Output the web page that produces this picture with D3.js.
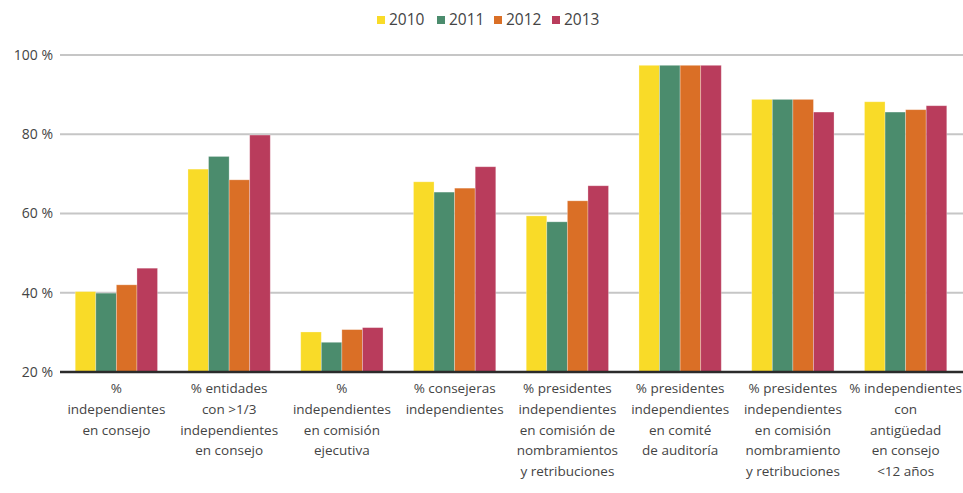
<!DOCTYPE html>
<html>
<head>
<meta charset="utf-8">
<script src="https://cdn.jsdelivr.net/npm/d3@7"></script>
<style>
  body { margin: 0; background: #fff; }
  text { font-family: "Open Sans", "Noto Sans", sans-serif; fill: #444; }
</style>
</head>
<body>
<div id="chart"></div>
<script>
var years = ["2010", "2011", "2012", "2013"];
var colors = ["#f9db28", "#4b8c6d", "#da6f26", "#b93c5c"];
var categories = [
    ["%", "independientes", "en consejo"],
    ["% entidades", "con >1/3", "independientes", "en consejo"],
    ["%", "independientes", "en comisión", "ejecutiva"],
    ["% consejeras", "independientes"],
    ["% presidentes", "independientes", "en comisión de", "nombramientos", "y retribuciones"],
    ["% presidentes", "independientes", "en comité", "de auditoría"],
    ["% presidentes", "independientes", "en comisión", "nombramiento", "y retribuciones"],
    ["% independientes", "con", "antigüedad", "en consejo", "<12 años"]
];
var values2010 = [40.3, 71.2, 30.1, 68.0, 59.4, 97.4, 88.8, 88.2];
var values2011 = [39.9, 74.4, 27.5, 65.4, 57.9, 97.4, 88.8, 85.6];
var values2012 = [42.0, 68.5, 30.7, 66.4, 63.2, 97.4, 88.8, 86.2];
var values2013 = [46.2, 79.8, 31.2, 71.8, 67.0, 97.4, 85.6, 87.2];
var yTicks = [20, 40, 60, 80, 100];

var series = [values2010, values2011, values2012, values2013];
var width = 963, height = 493;

var svg = d3.select('#chart').append('svg')
    .attr('width', width)
    .attr('height', height);

var x = d3.scaleBand()
    .domain(d3.range(categories.length))
    .range([60, 962])
    .paddingInner(0.27)
    .paddingOuter(0.135);

var xInner = d3.scaleBand()
    .domain(d3.range(years.length))
    .range([0, x.bandwidth()]);

var y = d3.scaleLinear().domain([20, 100]).range([372, 55]);

// grid lines
svg.append('g').selectAll('line')
    .data(yTicks.slice(1))
    .enter().append('line')
    .attr('x1', 60).attr('x2', width)
    .attr('y1', function (d) { return y(d); })
    .attr('y2', function (d) { return y(d); })
    .attr('stroke', '#c6c6c6')
    .attr('stroke-width', 2);

// y tick labels
svg.append('g').selectAll('text')
    .data(yTicks)
    .enter().append('text')
    .attr('x', 53)
    .attr('y', function (d) { return y(d); })
    .attr('dy', '0.35em')
    .attr('text-anchor', 'end')
    .style('font-size', '14px')
    .text(function (d) { return d + ' %'; });

// bars
var groups = svg.append('g').selectAll('g')
    .data(categories)
    .enter().append('g')
    .attr('transform', function (d, i) { return `translate(${x(i)},0)`; });

groups.selectAll('rect')
    .data(function (d, i) { return series.map(function (s, j) { return { year: j, value: s[i] }; }); })
    .enter().append('rect')
    .attr('x', function (d) { return xInner(d.year); })
    .attr('width', xInner.bandwidth())
    .attr('y', function (d) { return y(d.value); })
    .attr('height', function (d) { return y(20) - y(d.value); })
    .attr('fill', function (d) { return colors[d.year]; })
    .attr('stroke', 'rgba(255,255,255,0.35)')
    .attr('stroke-width', 0.8);

// baseline
svg.append('line')
    .attr('x1', 60).attr('x2', width)
    .attr('y1', y(20)).attr('y2', y(20))
    .attr('stroke', '#2b2b2b')
    .attr('stroke-width', 2.5);

// category labels
var labels = svg.append('g').selectAll('text')
    .data(categories)
    .enter().append('text')
    .attr('text-anchor', 'middle')
    .attr('transform', function (d, i) { return `translate(${x(i) + x.bandwidth() / 2},393)`; })
    .style('font-size', '13.5px');

labels.selectAll('tspan')
    .data(function (d) { return d; })
    .enter().append('tspan')
    .attr('x', 0)
    .attr('y', function (d, i) { return i * 20.8; })
    .text(function (d) { return d; });

// legend
var legendX = [377, 437, 494, 552];
var legend = svg.append('g').selectAll('g')
    .data(years)
    .enter().append('g')
    .attr('transform', function (d, i) { return `translate(${legendX[i]},20)`; });

legend.append('rect')
    .attr('x', 0).attr('y', -4)
    .attr('width', 8).attr('height', 8)
    .attr('fill', function (d, i) { return colors[i]; });

legend.append('text')
    .attr('x', 12)
    .attr('dy', '0.35em')
    .style('font-size', '15.5px')
    .text(function (d) { return d; });
</script>
</body>
</html>
